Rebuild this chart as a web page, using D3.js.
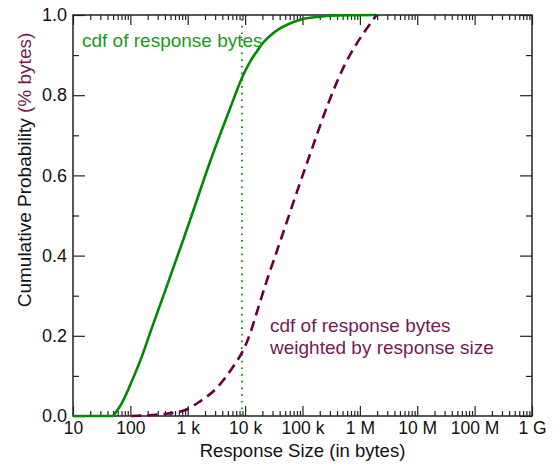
<!DOCTYPE html>
<html lang="en">
<head>
    <meta charset="UTF-8">
    <title>Response Size CDF</title>
    <script src="https://d3js.org/d3.v7.min.js"></script>
    <style>
        body {
            margin: 0;
            background: white;
            font-family: "Liberation Sans", Arial, sans-serif;
        }

        .axis text {
            font-family: "Liberation Sans", Arial, sans-serif;
            font-size: 18px;
            fill: #111;
        }

        .axis.xaxis text {
            font-size: 17.5px;
        }

        .axis line {
            stroke: #222;
            stroke-width: 1.2;
        }

        .axis path {
            display: none;
        }
    </style>
</head>
<body>
    <div id="chart"></div>
    <script>
        // response size (bytes) -> cumulative probability
        const countSizes = [10, 50, 71, 112, 160, 219, 427, 832, 1100, 2450, 5500, 8800, 12600, 15800, 20900, 28200, 39800, 63100, 100000, 200000, 398000, 1950000];
        const countCdf = [0, 0, 0.032, 0.095, 0.15, 0.206, 0.322, 0.439, 0.489, 0.634, 0.768, 0.843, 0.887, 0.908, 0.932, 0.950, 0.966, 0.980, 0.990, 0.996, 0.999, 1.0];

        const byteSizes = [105, 316, 832, 1620, 3160, 6170, 9330, 12200, 15800, 23800, 35500, 46200, 74100, 145000, 282000, 513000, 891000, 1410000, 1950000];
        const byteCdf = [0, 0.004, 0.013, 0.036, 0.069, 0.123, 0.165, 0.205, 0.256, 0.337, 0.410, 0.458, 0.545, 0.665, 0.780, 0.868, 0.930, 0.972, 1.0];

        const markerSize = 8800;

        const xTickValues = [1e1, 1e2, 1e3, 1e4, 1e5, 1e6, 1e7, 1e8, 1e9];
        const xTickLabels = ["10", "100", "1 k", "10 k", "100 k", "1 M", "10 M", "100 M", "1 G"];
        const yTickValues = [0, 0.2, 0.4, 0.6, 0.8, 1.0];
        const yTickLabels = ["0.0", "0.2", "0.4", "0.6", "0.8", "1.0"];
        const yMinorValues = [0.1, 0.3, 0.5, 0.7, 0.9];

        const green = "#008a00";
        const greenText = "#1a9a1a";
        const purple = "#650045";
        const purpleText = "#741a55";

        const W = 559, H = 464;
        const margin = { left: 73, right: 532, top: 15, bottom: 416 };

        const svg = d3.select("#chart")
            .append("svg")
            .attr("width", W)
            .attr("height", H);

        const x = d3.scaleLog()
            .domain([1e1, 1e9])
            .range([margin.left, margin.right]);

        const y = d3.scaleLinear()
            .domain([0, 1])
            .range([margin.bottom, margin.top]);

        // minor log ticks 2..9 in every decade
        const xMinorValues = [];
        for (let d = 1; d < 9; d++) {
            for (let k = 2; k <= 9; k++) xMinorValues.push(k * Math.pow(10, d));
        }

        // bottom axis
        svg.append("g")
            .attr("class", "axis xaxis")
            .attr("transform", `translate(0, ${margin.bottom})`)
            .call(d3.axisBottom(x).tickValues(xTickValues)
                .tickFormat((d, i) => xTickLabels[i])
                .tickSize(-10).tickPadding(6));

        svg.append("g")
            .attr("class", "axis")
            .attr("transform", `translate(0, ${margin.bottom})`)
            .call(d3.axisBottom(x).tickValues(xMinorValues).tickFormat("").tickSize(-5));

        // top axis
        svg.append("g")
            .attr("class", "axis")
            .attr("transform", `translate(0, ${margin.top})`)
            .call(d3.axisTop(x).tickValues(xTickValues).tickFormat("").tickSize(-10));

        svg.append("g")
            .attr("class", "axis")
            .attr("transform", `translate(0, ${margin.top})`)
            .call(d3.axisTop(x).tickValues(xMinorValues).tickFormat("").tickSize(-5));

        // left axis
        svg.append("g")
            .attr("class", "axis")
            .attr("transform", `translate(${margin.left}, 0)`)
            .call(d3.axisLeft(y).tickValues(yTickValues)
                .tickFormat((d, i) => yTickLabels[i])
                .tickSize(-12).tickPadding(6));

        svg.append("g")
            .attr("class", "axis")
            .attr("transform", `translate(${margin.left}, 0)`)
            .call(d3.axisLeft(y).tickValues(yMinorValues).tickFormat("").tickSize(-6));

        // right axis
        svg.append("g")
            .attr("class", "axis")
            .attr("transform", `translate(${margin.right}, 0)`)
            .call(d3.axisRight(y).tickValues(yTickValues).tickFormat("").tickSize(-12));

        svg.append("g")
            .attr("class", "axis")
            .attr("transform", `translate(${margin.right}, 0)`)
            .call(d3.axisRight(y).tickValues(yMinorValues).tickFormat("").tickSize(-6));

        // frame
        svg.append("rect")
            .attr("x", margin.left)
            .attr("y", margin.top)
            .attr("width", margin.right - margin.left)
            .attr("height", margin.bottom - margin.top)
            .attr("fill", "none")
            .attr("stroke", "#222")
            .attr("stroke-width", 1.5);

        const line = d3.line()
            .x(d => x(d[0]))
            .y(d => y(d[1]))
            .curve(d3.curveMonotoneX);

        const straight = d3.line()
            .x(d => x(d[0]))
            .y(d => y(d[1]));

        // dotted marker
        svg.append("line")
            .attr("x1", x(markerSize))
            .attr("x2", x(markerSize))
            .attr("y1", y(0))
            .attr("y2", y(1))
            .attr("stroke", green)
            .attr("stroke-width", 1.7)
            .attr("stroke-dasharray", "1.7,5");

        // green: flat part is straight, the rise starts with a corner
        const countPts = countSizes.map((s, i) => [s, countCdf[i]]);
        const firstRise = countCdf.findIndex((v, i) => v > 0) - 1;

        svg.append("path")
            .datum(countPts.slice(0, firstRise + 1))
            .attr("d", straight)
            .attr("fill", "none")
            .attr("stroke", green)
            .attr("stroke-width", 2.6);

        svg.append("path")
            .datum(countPts.slice(firstRise))
            .attr("d", line)
            .attr("fill", "none")
            .attr("stroke", green)
            .attr("stroke-width", 2.6);

        svg.append("path")
            .datum(byteSizes.map((s, i) => [s, byteCdf[i]]))
            .attr("d", line)
            .attr("fill", "none")
            .attr("stroke", purple)
            .attr("stroke-width", 2.6)
            .attr("stroke-dasharray", "10,6");

        // labels
        svg.append("text")
            .attr("x", 82)
            .attr("y", 47)
            .style("font-size", "19px")
            .attr("fill", greenText)
            .text("cdf of response bytes");

        const wlabel = svg.append("text")
            .attr("x", 270)
            .attr("y", 332)
            .style("font-size", "19px")
            .attr("fill", purpleText);
        wlabel.append("tspan").attr("x", 270).text("cdf of response bytes");
        wlabel.append("tspan").attr("x", 270).attr("dy", 22).text("weighted by response size");

        svg.append("text")
            .attr("x", (margin.left + margin.right) / 2)
            .attr("y", 457)
            .attr("text-anchor", "middle")
            .style("font-size", "18.5px")
            .attr("fill", "#111")
            .text("Response Size (in bytes)");

        const ylabel = svg.append("text")
            .attr("transform", "translate(31, 170) rotate(-90)")
            .attr("text-anchor", "middle")
            .style("font-size", "19px")
            .attr("fill", "#111");
        ylabel.append("tspan").text("Cumulative Probability ");
        ylabel.append("tspan").attr("fill", purpleText).text("(% bytes)");
    </script>
</body>
</html>
